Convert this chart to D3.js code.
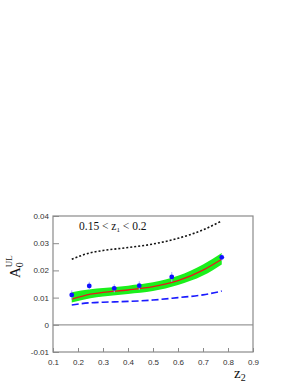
<!DOCTYPE html>
<html>
<head>
<meta charset="utf-8">
<script src="https://cdn.jsdelivr.net/npm/d3@7"></script>
<style>
  body { margin: 0; background: #fff; }
  svg { display: block; }
</style>
</head>
<body>
<svg id="chart" width="300" height="388"></svg>
<script>
// data
var pointX   = [0.175, 0.245, 0.345, 0.445, 0.575, 0.775];
var pointY   = [0.0110, 0.0143, 0.0134, 0.0144, 0.0176, 0.0248];
var pointErr = [0.0017, 0.0015, 0.0015, 0.0016, 0.0018, 0.0012];

var curveX   = [0.175, 0.25, 0.3, 0.4, 0.5, 0.6, 0.7, 0.775];
var redY     = [0.0094, 0.0113, 0.0119, 0.0128, 0.0140, 0.0162, 0.0201, 0.0241];
var bandHigh = [0.0120, 0.0131, 0.0135, 0.0144, 0.0156, 0.0180, 0.0222, 0.0264];
var bandLow  = [0.0082, 0.0098, 0.0104, 0.0113, 0.0124, 0.0146, 0.0181, 0.0222];
var blackY   = [0.0241, 0.0265, 0.0273, 0.0284, 0.0297, 0.0318, 0.0349, 0.0382];
var blueY    = [0.0073, 0.0081, 0.0083, 0.0086, 0.0091, 0.0100, 0.0110, 0.0124];

var xTicks = [0.1, 0.2, 0.3, 0.4, 0.5, 0.6, 0.7, 0.8, 0.9];
var yTicks = [-0.01, 0, 0.01, 0.02, 0.03, 0.04];

// frame (pixels)
var frameL = 53, frameR = 253, frameT = 216, frameB = 352;

var svg = d3.select("#chart");

var x = d3.scaleLinear().domain([0.1, 0.9]).range([frameL, frameR]);
var y = d3.scaleLinear().domain([-0.01, 0.04]).range([frameB, frameT]);

// green uncertainty band
var band = curveX.map(function(v, i) { return {x: v, lo: bandLow[i], hi: bandHigh[i]}; });
svg.append("path")
  .datum(band)
  .attr("fill", "#1bf01b")
  .attr("d", d3.area()
    .x(function(d) { return x(d.x); })
    .y0(function(d) { return y(d.lo); })
    .y1(function(d) { return y(d.hi); })
    .curve(d3.curveMonotoneX));

function drawCurve(vals, color, width, dash) {
  svg.append("path")
    .datum(curveX.map(function(v, i) { return [v, vals[i]]; }))
    .attr("fill", "none")
    .attr("stroke", color)
    .attr("stroke-width", width)
    .attr("stroke-dasharray", dash)
    .attr("d", d3.line()
      .x(function(d) { return x(d[0]); })
      .y(function(d) { return y(d[1]); })
      .curve(d3.curveMonotoneX));
}

drawCurve(redY, "#e8161b", 1.3, null);
drawCurve(blackY, "#111", 1.6, "2,2");
drawCurve(blueY, "#1a1aff", 1.6, "7,3");

// zero line
svg.append("line")
  .attr("x1", frameL).attr("x2", frameR)
  .attr("y1", y(0)).attr("y2", y(0))
  .attr("stroke", "#999").attr("stroke-width", 1.2);

// data points with error bars
var pts = svg.append("g");
pts.selectAll("line")
  .data(pointX)
  .enter()
  .append("line")
  .attr("x1", function(d) { return x(d); })
  .attr("x2", function(d) { return x(d); })
  .attr("y1", function(d, i) { return y(pointY[i] - pointErr[i]); })
  .attr("y2", function(d, i) { return y(pointY[i] + pointErr[i]); })
  .attr("stroke", "#a9a9ff")
  .attr("stroke-width", 1);
pts.selectAll("circle")
  .data(pointX)
  .enter()
  .append("circle")
  .attr("cx", function(d) { return x(d); })
  .attr("cy", function(d, i) { return y(pointY[i]); })
  .attr("r", 2.4)
  .attr("fill", "#1010ff");

// frame box
svg.append("rect")
  .attr("x", frameL).attr("y", frameT)
  .attr("width", frameR - frameL).attr("height", frameB - frameT)
  .attr("fill", "none")
  .attr("stroke", "#8a8a8a")
  .attr("stroke-width", 1.2);

// axes with inward ticks
var yAxis = svg.append("g")
  .attr("transform", "translate(" + frameL + ",0)")
  .call(d3.axisRight(y).tickValues(yTicks).tickSize(6).tickFormat(function(d) { return String(+d.toFixed(2)); }));
yAxis.select(".domain").remove();
yAxis.selectAll("line").attr("stroke", "#8a8a8a");
yAxis.selectAll("text")
  .attr("x", -4).attr("text-anchor", "end")
  .attr("fill", "#333")
  .style("font-family", "Liberation Sans, Arial, sans-serif")
  .style("font-size", "8px");

var xAxis = svg.append("g")
  .attr("transform", "translate(0," + frameB + ")")
  .call(d3.axisTop(x).tickValues(xTicks).tickSize(4).tickFormat(d3.format(".1f")));
xAxis.select(".domain").remove();
xAxis.selectAll("line").attr("stroke", "#8a8a8a");
xAxis.selectAll("text")
  .attr("y", 13).attr("dy", 0)
  .attr("fill", "#333")
  .style("font-family", "Liberation Sans, Arial, sans-serif")
  .style("font-size", "8px");

// range label
var serif = "Liberation Serif, Times New Roman, serif";
var lab = svg.append("text")
  .attr("x", 79).attr("y", 229.5)
  .style("font-family", serif).style("font-size", "11.5px").attr("fill", "#111");
lab.append("tspan").text("0.15 < z");
lab.append("tspan").attr("dy", 2.5).style("font-size", "7px").text("1");
lab.append("tspan").attr("dy", -2.5).text(" < 0.2");

// axis titles
var zt = svg.append("text")
  .attr("x", 234).attr("y", 378)
  .style("font-family", serif).style("font-size", "15px").attr("fill", "#111");
zt.append("tspan").text("z");
zt.append("tspan").attr("dy", 3).style("font-size", "10px").text("2");

var at = svg.append("text")
  .attr("transform", "translate(20,278) rotate(-90)")
  .style("font-family", serif).style("font-size", "15px").attr("fill", "#111");
at.append("tspan").text("A");
at.append("tspan").attr("dy", 3).style("font-size", "10px").text("0");
at.append("tspan").attr("dx", -5).attr("dy", -11).style("font-size", "9px").text("UL");
</script>
</body>
</html>
